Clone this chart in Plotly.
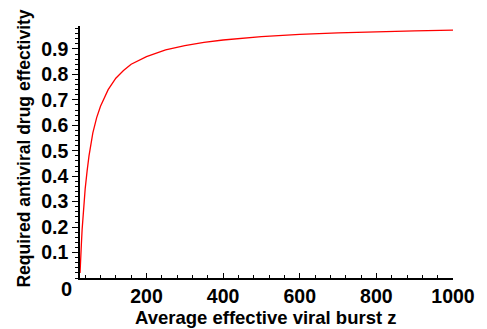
import plotly.graph_objects as go

# Data
burst_z = [26.6, 27, 28, 29, 30, 32, 34, 36, 40, 45, 50, 60, 70, 80, 90, 100,
           120, 140, 160, 200, 250, 300, 350, 400, 500, 600, 700, 800, 900, 1000]
effectivity = [0.02, 0.04, 0.07, 0.10, 0.13, 0.19, 0.24, 0.28, 0.35, 0.42, 0.48,
               0.57, 0.63, 0.675, 0.71, 0.74, 0.785, 0.815, 0.84, 0.87, 0.896,
               0.913, 0.926, 0.935, 0.948, 0.957, 0.963, 0.968, 0.971, 0.974]
x_ticks = [200, 400, 600, 800, 1000]
y_ticks = [0.1, 0.2, 0.3, 0.4, 0.5, 0.6, 0.7, 0.8, 0.9]
y_tick_text = ["0.1", "0.2", "0.3", "0.4", "0.5", "0.6", "0.7", "0.8", "0.9"]
x_title = "Average effective viral burst z"
y_title = "Required antiviral drug effectivity"

FONT = "Liberation Sans"
OFF = 8  # default page body margin offsets the figure in the window
W, H = 487 - OFF, 329 - OFF
L, T = 80 - OFF, 26 - OFF
R = W - (463 - OFF)
B = H - (278 - OFF)
PW, PH = W - L - R, H - T - B


def px_to_paper(px, py):
    # px, py given in window pixels
    px -= OFF
    py -= OFF
    return (px - L) / PW, (H - B - py) / PH


fig = go.Figure()
fig.add_trace(go.Scatter(x=burst_z, y=effectivity, mode="lines",
                         line=dict(color="#ff0000", width=1.3),
                         showlegend=False, hoverinfo="skip"))

fig.update_layout(
    width=W, height=H,
    margin=dict(l=L, r=R, t=T, b=B),
    paper_bgcolor="white", plot_bgcolor="white",
    font=dict(family=FONT, color="black"),
)

fig.update_xaxes(
    range=[26.5, 1000], showgrid=False, zeroline=False,
    showline=True, linecolor="black", linewidth=1.5,
    tickmode="array", tickvals=x_ticks, ticktext=[str(v) for v in x_ticks],
    ticks="inside", ticklen=5, tickcolor="black", tickwidth=1,
    tickfont=dict(family=FONT, size=19.5, color="black", weight="bold"),
    ticklabelstandoff=0,
    minor=dict(tickmode="linear", tick0=0, dtick=40, ticks="inside",
               ticklen=3, tickcolor="black", tickwidth=1),
)

fig.update_yaxes(
    range=[0, 0.99], showgrid=False, zeroline=False,
    showline=True, linecolor="black", linewidth=1.5,
    tickmode="array", tickvals=y_ticks, ticktext=y_tick_text,
    ticks="outside", ticklen=6, tickcolor="black", tickwidth=1,
    tickfont=dict(family=FONT, size=19.5, color="black", weight="bold"),
    minor=dict(tickmode="linear", tick0=0, dtick=0.02, ticks="outside",
               ticklen=3, tickcolor="black", tickwidth=1),
)


def bold(s):
    return dict(family=FONT, size=s, color="black", weight="bold")


x0, y0 = px_to_paper(66, 289)
fig.add_annotation(text="0", x=x0, y=y0, xref="paper", yref="paper",
                   xanchor="center", yanchor="middle", showarrow=False,
                   font=bold(20))

xt, yt = px_to_paper(271, 317)
fig.add_annotation(text=x_title, x=xt, y=yt, xref="paper", yref="paper",
                   xanchor="center", yanchor="middle", showarrow=False,
                   font=bold(18.5))

xy, yy = px_to_paper(22, 149)
fig.add_annotation(text=y_title, x=xy, y=yy, xref="paper", yref="paper",
                   xanchor="center", yanchor="middle", showarrow=False,
                   textangle=-90, font=bold(17.5))

fig.write_html("out.html")
